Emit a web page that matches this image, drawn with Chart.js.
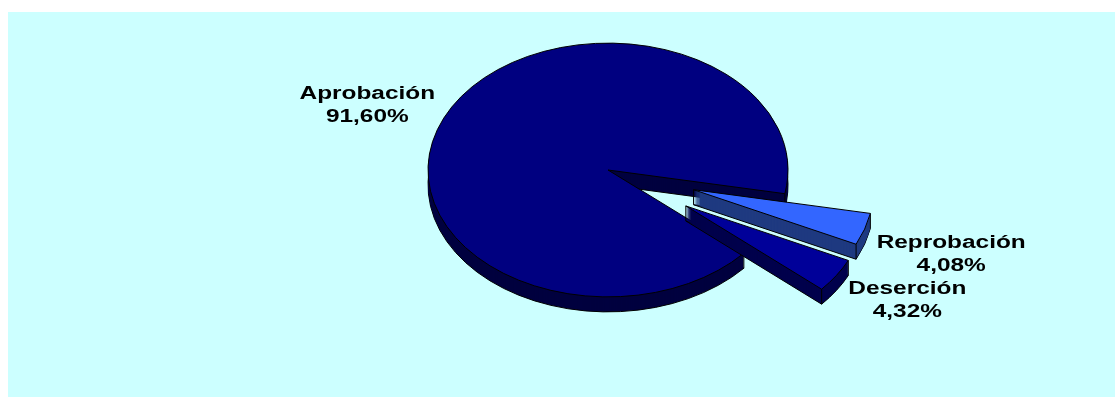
<!DOCTYPE html>
<html>
<head>
<meta charset="utf-8">
<script src="https://cdn.jsdelivr.net/npm/chart.js@4.4.0/dist/chart.umd.min.js"></script>
<style>
  html, body { margin: 0; padding: 0; background: #fff; }
  canvas { display: block; }
</style>
</head>
<body>
<canvas id="pieChart" width="1115" height="397"></canvas>
<script>
  const categories = ['Aprobación', 'Reprobación', 'Deserción'];
  const percentages = [91.60, 4.08, 4.32];

  // look of the 3d pie
  const topColors = ['#000080', '#3366FF', '#000099'];
  const sideColors = ['#00003F', '#1F3A80', '#00004C'];
  const explode = [0, 90, 93];
  const tilt = 0.705;
  const depth = 15;
  const stretch = 1.355;
  const lineGap = 23;

  function fmtPct(v) {
    return v.toFixed(2).replace('.', ',') + '%';
  }

  function arcGeom(arc, i) {
    const p = arc.getProps(['x', 'y', 'startAngle', 'endAngle', 'outerRadius']);
    p.mid = (p.startAngle + p.endAngle) / 2;
    p.ox = Math.cos(p.mid) * explode[i];
    p.oy = Math.sin(p.mid) * explode[i];
    return p;
  }

  // flat point -> screen point
  function project(p, fx, fy, drop) {
    return [fx, p.y + (fy - p.y) * tilt + drop];
  }

  const pie3d = {
    id: 'pie3d',
    beforeDraw(chart) {
      const ctx = chart.ctx;
      ctx.save();
      ctx.fillStyle = '#CCFFFF';
      ctx.fillRect(8, 12, chart.width - 8, chart.height - 12);
      ctx.restore();
    },
    beforeDatasetsDraw(chart) {
      const ctx = chart.ctx;
      const arcs = chart.getDatasetMeta(0).data;
      arcs.forEach((arc, i) => {
        const p = arcGeom(arc, i);
        const trace = (drop) => {
          ctx.save();
          ctx.translate(0, drop);
          ctx.translate(p.x, p.y);
          ctx.scale(1, tilt);
          ctx.translate(-p.x + p.ox, -p.y + p.oy);
          ctx.beginPath();
          ctx.moveTo(p.x, p.y);
          ctx.arc(p.x, p.y, p.outerRadius, p.startAngle, p.endAngle);
          ctx.closePath();
          ctx.restore();
        };
        ctx.save();
        ctx.lineWidth = 1;
        ctx.strokeStyle = '#000';
        ctx.lineJoin = 'round';

        // side walls
        ctx.fillStyle = sideColors[i];
        trace(depth);
        ctx.fill();
        ctx.stroke();
        for (let d = depth - 1; d > 0; d--) {
          trace(d);
          ctx.fill();
        }

        // vertical edges at the apex and both rim ends
        const cx = p.x + p.ox, cy = p.y + p.oy;
        const pts = [
          [cx, cy],
          [cx + Math.cos(p.startAngle) * p.outerRadius, cy + Math.sin(p.startAngle) * p.outerRadius],
          [cx + Math.cos(p.endAngle) * p.outerRadius, cy + Math.sin(p.endAngle) * p.outerRadius]
        ];
        ctx.beginPath();
        pts.forEach(([fx, fy]) => {
          const a = project(p, fx, fy, 0);
          ctx.moveTo(a[0], a[1]);
          ctx.lineTo(a[0], a[1] + depth);
        });
        ctx.stroke();

        // top face
        ctx.fillStyle = topColors[i];
        trace(0);
        ctx.fill();
        ctx.stroke();
        ctx.restore();
      });
      return false;
    },
    afterDraw(chart) {
      const ctx = chart.ctx;
      const arcs = chart.getDatasetMeta(0).data;
      ctx.save();
      ctx.font = 'bold 18px "Liberation Sans", Arial, sans-serif';
      ctx.fillStyle = '#000';
      ctx.textAlign = 'center';
      ctx.textBaseline = 'alphabetic';
      arcs.forEach((arc, i) => {
        const p = arcGeom(arc, i);
        const reach = p.outerRadius + explode[i];
        const ax = p.x + Math.cos(p.mid) * reach;
        const ay = p.y + Math.sin(p.mid) * reach * tilt;
        const lines = [categories[i], fmtPct(percentages[i])];
        const w = Math.max(...lines.map(t => ctx.measureText(t).width * stretch));
        const h = lineGap * 2;
        const left = Math.cos(p.mid) >= 0 ? ax + 12 : ax - 11 - w;
        const top = Math.sin(p.mid) >= 0 ? ay + 1 : ay - h + 12;
        lines.forEach((t, j) => {
          ctx.save();
          ctx.translate(left + w / 2, top + 18 + j * lineGap);
          ctx.scale(stretch, 1);
          ctx.fillText(t, 0, 0);
          ctx.restore();
        });
      });
      ctx.restore();
    }
  };

  new Chart(document.getElementById('pieChart'), {
    type: 'pie',
    data: {
      labels: categories,
      datasets: [{
        data: percentages,
        backgroundColor: topColors,
        borderWidth: 0
      }]
    },
    options: {
      responsive: false,
      animation: false,
      rotation: 131,
      radius: 180,
      layout: { padding: { left: 101, right: 0, top: 0, bottom: 57 } },
      plugins: {
        legend: { display: false },
        tooltip: { enabled: false }
      }
    },
    plugins: [pie3d]
  });
</script>
</body>
</html>
